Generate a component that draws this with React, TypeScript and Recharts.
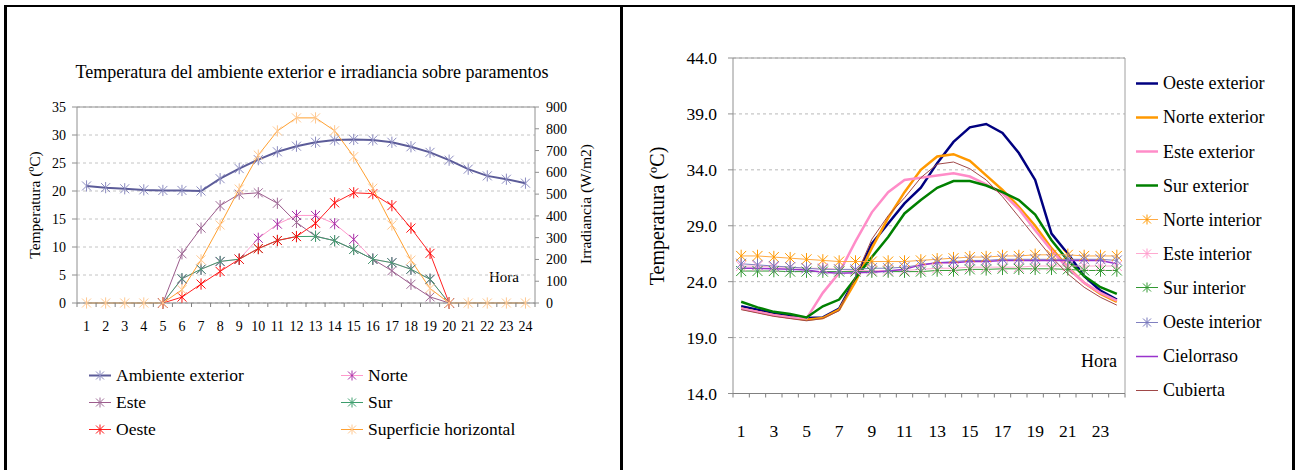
import React from "react";
import { LineChart, Line, XAxis, YAxis, CartesianGrid, ReferenceLine } from "recharts";

const FONT = '"Liberation Serif", "Times New Roman", serif';

// ---- shared hours ----
const hours = [1, 2, 3, 4, 5, 6, 7, 8, 9, 10, 11, 12, 13, 14, 15, 16, 17, 18, 19, 20, 21, 22, 23, 24];

// ---- left chart: temperatura ambiente (ºC) + irradiancia (W/m2) ----
const ambienteExterior = [20.9, 20.6, 20.4, 20.2, 20.1, 20.1, 20.0, 22.2, 24.0, 25.6, 27.0, 28.0, 28.7, 29.1, 29.2, 29.1, 28.7, 27.9, 26.9, 25.5, 23.9, 22.7, 22.1, 21.4];
const irrNorte = [null, null, null, null, 0, 110, 155, 190, 201, 297, 362, 402, 402, 364, 292, 201, 185, 155, 109, 0, null, null, null, null];
const irrEste = [null, null, null, null, 0, 226, 344, 447, 500, 506, 458, 370, 307, 286, 246, 201, 148, 86, 28, 0, null, null, null, null];
const irrSur = [null, null, null, null, 0, 112, 155, 191, 201, 250, 287, 305, 306, 286, 246, 201, 185, 155, 109, 0, null, null, null, null];
const irrOeste = [null, null, null, null, 0, 27, 87, 145, 201, 250, 287, 305, 366, 460, 506, 502, 447, 344, 228, 0, null, null, null, null];
const irrHorizontal = [0, 0, 0, 0, 0, 61, 198, 358, 523, 679, 790, 850, 850, 791, 672, 527, 358, 197, 67, 0, 0, 0, 0, 0];
const tempTicks = [0, 5, 10, 15, 20, 25, 30, 35];
const irrTicks = [0, 100, 200, 300, 400, 500, 600, 700, 800, 900];

// ---- right chart: temperaturas de paramentos (ºC) ----
const oesteExterior = [21.8, 21.5, 21.2, 20.95, 20.75, 20.8, 21.6, 24.3, 27.4, 29.2, 31.0, 32.4, 34.6, 36.5, 37.8, 38.1, 37.3, 35.5, 33.1, 28.3, 26.5, 24.5, 23.2, 22.4];
const norteExterior = [21.6, 21.3, 21.0, 20.8, 20.6, 20.75, 21.5, 24.0, 27.0, 29.7, 32.0, 34.0, 35.2, 35.4, 34.8, 33.5, 32.2, 30.7, 29.0, 27.0, 25.3, 23.9, 22.9, 22.2];
const esteExterior = [21.6, 21.3, 21.0, 20.8, 20.7, 23.0, 24.8, 27.6, 30.2, 32.0, 33.1, 33.3, 33.5, 33.7, 33.4, 32.7, 31.9, 30.5, 28.6, 26.8, 25.2, 23.9, 23.0, 22.3];
const surExterior = [22.2, 21.7, 21.3, 21.1, 20.8, 21.8, 22.4, 24.3, 26.2, 28.0, 30.1, 31.3, 32.4, 33.0, 33.0, 32.6, 32.0, 31.3, 30.0, 27.7, 25.9, 24.5, 23.5, 22.9];
const norteInterior = [26.3, 26.3, 26.2, 26.1, 26.0, 25.9, 25.8, 25.8, 25.8, 25.8, 25.8, 25.9, 26.0, 26.1, 26.2, 26.2, 26.3, 26.3, 26.4, 26.4, 26.4, 26.3, 26.3, 26.3];
const esteInterior = [25.4, 25.4, 25.3, 25.3, 25.2, 25.2, 25.1, 25.0, 25.0, 25.0, 25.0, 25.1, 25.2, 25.2, 25.3, 25.3, 25.3, 25.3, 25.4, 25.4, 25.4, 25.4, 25.4, 25.4];
const surInterior = [24.95, 24.95, 24.95, 24.9, 24.9, 24.9, 24.9, 24.9, 24.9, 24.9, 24.9, 24.9, 25.0, 25.0, 25.1, 25.1, 25.15, 25.15, 25.15, 25.15, 25.1, 25.0, 25.0, 25.0];
const oesteInterior = [25.6, 25.5, 25.4, 25.3, 25.2, 25.1, 25.1, 25.1, 25.2, 25.2, 25.3, 25.5, 25.7, 25.8, 25.9, 25.9, 26.0, 26.0, 26.0, 26.0, 26.0, 26.0, 26.0, 25.9];
const cielorraso = [25.2, 25.2, 25.15, 25.1, 25.05, 24.85, 24.75, 24.8, 24.85, 24.95, 25.1, 25.5, 25.7, 25.7, 25.8, 25.8, 25.9, 25.9, 25.9, 25.9, 25.9, 25.9, 25.9, 25.6];
const cubierta = [21.5, 21.2, 20.9, 20.7, 20.5, 20.7, 21.4, 24.4, 27.8, 29.9, 31.5, 33.3, 34.5, 34.7, 34.1, 33.1, 31.6, 29.8, 28.0, 26.2, 24.7, 23.5, 22.6, 21.9];
const rightTicks = [14, 19, 24, 29, 34, 39, 44];

const leftData = hours.map((h, i) => ({
  hour: h,
  ambiente: ambienteExterior[i],
  norte: irrNorte[i],
  este: irrEste[i],
  sur: irrSur[i],
  oeste: irrOeste[i],
  horizontal: irrHorizontal[i],
}));

const rightData = hours.map((h, i) => ({
  hour: h,
  oesteExt: oesteExterior[i],
  norteExt: norteExterior[i],
  esteExt: esteExterior[i],
  surExt: surExterior[i],
  norteInt: norteInterior[i],
  esteInt: esteInterior[i],
  surInt: surInterior[i],
  oesteInt: oesteInterior[i],
  cielo: cielorraso[i],
  cubierta: cubierta[i],
}));

// tick marks sit between categories, labels on the categories
const hourTicks = [...hours.map((h) => h - 0.5), 24.5, ...hours].sort((a, b) => a - b);

type Serie = { key: string; name: string; line: string; marker?: string; width: number; axis?: string };

const leftSeries: Serie[] = [
  { key: "ambiente", name: "Ambiente exterior", line: "#5c5c99", marker: "#8c8cc0", width: 2, axis: "t" },
  { key: "norte", name: "Norte", line: "#ff99cc", marker: "#a830a8", width: 1, axis: "w" },
  { key: "este", name: "Este", line: "#9c5c8c", marker: "#a06c98", width: 1, axis: "w" },
  { key: "sur", name: "Sur", line: "#3c9c6c", marker: "#40a070", width: 1, axis: "w" },
  { key: "oeste", name: "Oeste", line: "#ff2020", marker: "#ff1010", width: 1, axis: "w" },
  { key: "horizontal", name: "Superficie horizontal", line: "#ffa030", marker: "#ffc890", width: 1, axis: "w" },
];

const rightSeries: Serie[] = [
  { key: "oesteExt", name: "Oeste exterior", line: "#000080", width: 2.5 },
  { key: "norteExt", name: "Norte exterior", line: "#ff9900", width: 2.5 },
  { key: "esteExt", name: "Este exterior", line: "#ff8cc8", width: 2.5 },
  { key: "surExt", name: "Sur exterior", line: "#008000", width: 2.5 },
  { key: "norteInt", name: "Norte interior", line: "#ffaa44", marker: "#ff9900", width: 1 },
  { key: "esteInt", name: "Este interior", line: "#ffaad0", marker: "#ff99cc", width: 1 },
  { key: "surInt", name: "Sur interior", line: "#339933", marker: "#339933", width: 1 },
  { key: "oesteInt", name: "Oeste interior", line: "#8080c0", marker: "#7777bb", width: 1 },
  { key: "cielo", name: "Cielorraso", line: "#9933cc", width: 1.5 },
  { key: "cubierta", name: "Cubierta", line: "#a04848", width: 1 },
];

const starPath = (cx: number, cy: number, r: number) =>
  `M${cx - r},${cy - r}L${cx + r},${cy + r}M${cx - r},${cy + r}L${cx + r},${cy - r}M${cx},${cy - r * 1.25}L${cx},${cy + r * 1.25}`;

const starDot = (color: string, r: number) => (props: any) => {
  const { cx, cy, index, value } = props;
  if (cx == null || cy == null || value == null) return <g key={index} />;
  return <path key={index} d={starPath(cx, cy, r)} stroke={color} strokeWidth={1} fill="none" />;
};

const hourTick = (labelDy: number, fontSize: number, showLabel: (v: number) => boolean) => (props: any) => {
  const { x, y, payload } = props;
  const v = payload.value;
  if (!Number.isInteger(v)) {
    return <line x1={x} x2={x} y1={y} y2={y + 4} stroke="#808080" />;
  }
  if (!showLabel(v)) return <g />;
  return (
    <text x={x} y={y + labelDy} textAnchor="middle" fontSize={fontSize} fontFamily={FONT} fill="#000">
      {v}
    </text>
  );
};

function LegendIcon({ s, r }: { s: Serie; r: number }) {
  return (
    <svg width={24} height={14} style={{ display: "block" }}>
      <line x1={1} x2={23} y1={7} y2={7} stroke={s.line} strokeWidth={Math.min(s.width, 2.5)} />
      {s.marker && <path d={starPath(12, 7, r)} stroke={s.marker} strokeWidth={1} fill="none" />}
    </svg>
  );
}

const abs = (x: number, y: number, extra: React.CSSProperties = {}): React.CSSProperties => ({
  position: "absolute",
  left: x,
  top: y,
  whiteSpace: "nowrap",
  fontFamily: FONT,
  color: "#000",
  ...extra,
});

function LeftPanel() {
  const legendPos = [
    [88, 375], [340, 375],
    [88, 402], [340, 402],
    [88, 429], [340, 429],
  ];
  return (
    <>
      <div style={abs(312, 72, { transform: "translate(-50%,-50%)", fontSize: 18 })}>
        Temperatura del ambiente exterior e irradiancia sobre paramentos
      </div>
      <div style={abs(35, 205, { transform: "translate(-50%,-50%) rotate(-90deg)", fontSize: 15.5 })}>
        Temperatura (ºC)
      </div>
      <div style={abs(586, 204, { transform: "translate(-50%,-50%) rotate(-90deg)", fontSize: 15.5 })}>
        Irradiancia (W/m2)
      </div>
      <div style={abs(504, 277, { transform: "translate(-50%,-50%)", fontSize: 15 })}>Hora</div>
      <div style={{ position: "absolute", left: 0, top: 0 }}>
        <LineChart width={621} height={470} data={leftData} margin={{ top: 107, right: 36, bottom: 137, left: 37 }}>
          <CartesianGrid yAxisId="t" vertical={false} stroke="#c4c4c4" strokeDasharray="3 3" />
          <XAxis
            dataKey="hour"
            type="number"
            domain={[0.5, 24.5]}
            ticks={hourTicks}
            interval={0}
            tickLine={false}
            tickSize={0}
            tickMargin={0}
            height={30}
            stroke="#808080"
            tick={hourTick(28, 14, () => true)}
          />
          <YAxis
            yAxisId="t"
            domain={[0, 35]}
            ticks={tempTicks}
            interval={0}
            width={40}
            tickSize={5}
            tickMargin={6}
            stroke="#909090"
            tick={{ fontSize: 14, fill: "#000", fontFamily: FONT }}
          />
          <YAxis
            yAxisId="w"
            orientation="right"
            domain={[0, 900]}
            ticks={irrTicks}
            interval={0}
            width={50}
            tickSize={4}
            tickMargin={7}
            stroke="#909090"
            tick={{ fontSize: 14, fill: "#000", fontFamily: FONT }}
          />
          <ReferenceLine yAxisId="t" y={35} stroke="#909090" />
          {leftSeries.map((s) => (
            <Line
              key={s.key}
              yAxisId={s.axis}
              dataKey={s.key}
              name={s.name}
              type="linear"
              stroke={s.line}
              strokeWidth={s.width}
              dot={starDot(s.marker || s.line, 4.5)}
              activeDot={false}
              isAnimationActive={false}
            />
          ))}
        </LineChart>
      </div>
      {leftSeries.map((s, i) => (
        <div key={s.key} style={abs(legendPos[i][0], legendPos[i][1], { transform: "translateY(-50%)", display: "flex", alignItems: "center", gap: 4, fontSize: 17.5 })}>
          <LegendIcon s={s} r={4} />
          <span>{s.name}</span>
        </div>
      ))}
    </>
  );
}

function RightPanel() {
  return (
    <>
      <div style={abs(657, 216, { transform: "translate(-50%,-50%) rotate(-90deg)", fontSize: 20 })}>
        Temperatura (ºC)
      </div>
      <div style={abs(1099, 361, { transform: "translate(-50%,-50%)", fontSize: 18 })}>Hora</div>
      <div style={{ position: "absolute", left: 622, top: 0 }}>
        <LineChart width={677} height={470} data={rightData} margin={{ top: 58, right: 174, bottom: 46.5, left: 51 }}>
          <CartesianGrid vertical={false} stroke="#b8b8b8" strokeDasharray="3 3" />
          <XAxis
            dataKey="hour"
            type="number"
            domain={[0.5, 24.5]}
            ticks={hourTicks}
            interval={0}
            tickLine={false}
            tickSize={0}
            tickMargin={0}
            height={30}
            stroke="#808080"
            tick={hourTick(43, 17.5, (v) => v % 2 === 1)}
          />
          <YAxis
            domain={[14, 44]}
            ticks={rightTicks}
            interval={0}
            width={60}
            tickSize={5}
            tickMargin={11}
            stroke="#909090"
            tickFormatter={(v: number) => v.toFixed(1)}
            tick={{ fontSize: 17.5, fill: "#000", fontFamily: FONT }}
          />
          <ReferenceLine y={44} stroke="#a0a0a0" />
          <ReferenceLine x={24.5} stroke="#a0a0a0" />
          {rightSeries.map((s) => (
            <Line
              key={s.key}
              dataKey={s.key}
              name={s.name}
              type="linear"
              stroke={s.line}
              strokeWidth={s.width}
              dot={s.marker ? starDot(s.marker, 5) : false}
              activeDot={false}
              isAnimationActive={false}
            />
          ))}
        </LineChart>
      </div>
      {rightSeries.map((s, i) => (
        <div key={s.key} style={abs(1135, 83.3 + i * 34.1, { transform: "translateY(-50%)", display: "flex", alignItems: "center", gap: 4, fontSize: 18 })}>
          <LegendIcon s={s} r={4} />
          <span>{s.name}</span>
        </div>
      ))}
    </>
  );
}

export default function App() {
  return (
    <div style={{ position: "absolute", left: 0, top: 0, width: 1299, height: 470, background: "#fff", overflow: "hidden" }}>
      {/* table frame */}
      <div style={{ position: "absolute", left: 4, top: 5, width: 1291, height: 2, background: "#000" }} />
      <div style={{ position: "absolute", left: 4, top: 5, width: 3, height: 465, background: "#000" }} />
      <div style={{ position: "absolute", left: 620, top: 5, width: 3, height: 465, background: "#000" }} />
      <div style={{ position: "absolute", left: 1292, top: 5, width: 3, height: 465, background: "#000" }} />
      <LeftPanel />
      <RightPanel />
    </div>
  );
}
